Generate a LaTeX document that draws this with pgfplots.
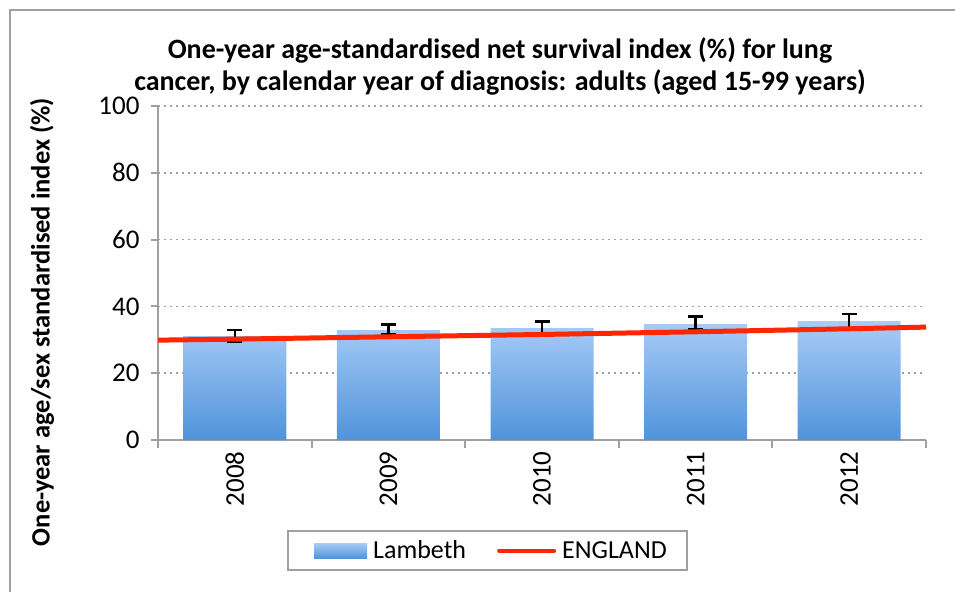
\documentclass[border=0pt]{standalone}
\usepackage{fontspec}
\setmainfont{Carlito}
\usepackage{pgfplots}
\pgfplotsset{compat=1.18}
\definecolor{barTop}{RGB}{168,204,248}
\definecolor{barBot}{RGB}{80,148,218}
\definecolor{engred}{RGB}{255,38,0}
\definecolor{axgray}{RGB}{160,160,160}
\begin{document}
\begin{tikzpicture}
\path[use as bounding box] (0pt,0pt) rectangle (955pt,-592pt);
\draw[axgray, line width=2pt] (10pt,-592pt) -- (10pt,-10pt) -- (955pt,-10pt);
\begin{axis}[
  at={(158pt,-440pt)}, anchor=south west,
  scale only axis, width=768pt, height=334pt,
  xmin=-0.5, xmax=4.5, ymin=0, ymax=100,
  ytick={0,20,...,100},
  xtick={0,...,4}, xticklabels={2008,2009,2010,2011,2012},
  minor xtick={-0.5,0.5,...,4.5},
  major x tick style={draw=none},
  tick align=outside,
  major tick length=7pt, minor tick length=8pt,
  axis x line*=bottom, axis y line*=left,
  axis line style={axgray, line width=2pt, -},
  tick style={axgray, line width=2pt},
  ymajorgrids, grid style={axgray, line width=1.5pt, dash pattern=on 2pt off 4pt},
  /pgf/number format/assume math mode=true,
  ticklabel style={font=\fontsize{27}{32}\selectfont},
  yticklabel style={xshift=-8pt},
  xticklabel style={rotate=90, anchor=east, xshift=-1pt},
  legend columns=2,
  legend style={at={(0.429,-0.331)}, anchor=center, draw=axgray, line width=2pt,
    font=\fontsize{26}{31}\selectfont, inner xsep=17pt, inner ysep=7pt,
    nodes={inner sep=3pt},
    /tikz/every odd column/.append style={column sep=3pt},
    /tikz/every even column/.append style={column sep=28pt}},
]
\addplot[ybar, bar width=103pt, draw=none, top color=barTop, bottom color=barBot,
  legend image code/.code={\path (0pt,0pt); \fill[top color=barTop, bottom color=barBot] (9pt,-7.5pt) rectangle (62pt,7.5pt);},
  error bars/.cd, y dir=both, y explicit,
  error bar style={draw=black, line width=2.5pt},
  error mark options={draw=black, rotate=90, mark size=7.5pt, line width=2.5pt}]
  coordinates {
  (0,31.1) += (0,1.9) -= (0,1.6)
  (1,32.9) += (0,1.7) -= (0,1.3)
  (2,33.5) += (0,2.0) -= (0,1.6)
  (3,34.7) += (0,2.3) -= (0,1.6)
  (4,35.6) += (0,2.2) -= (0,2.3)
  };
\addlegendentry{Lambeth}
\addplot[engred, line width=5pt, mark=none,
  legend image code/.code={\draw[engred, line width=4pt, line cap=round] (0pt,0pt) -- (55pt,0pt);}]
  coordinates {(-0.5,29.9) (0,30.2) (1,30.9) (2,31.6) (3,32.4) (4,33.3) (4.5,33.8)};
\addlegendentry{ENGLAND}
\end{axis}
\node[font=\bfseries\fontsize{28}{32}\selectfont, align=center] at (500pt,-66pt)
  {One-year age-standardised net survival index (\%) for lung\\cancer, by calendar year of diagnosis: adults (aged 15-99 years)};
\node[rotate=90, font=\bfseries\fontsize{26.5}{31}\selectfont] at (42pt,-322pt)
  {One-year age/sex standardised index (\%)};
\end{tikzpicture}
\end{document}
